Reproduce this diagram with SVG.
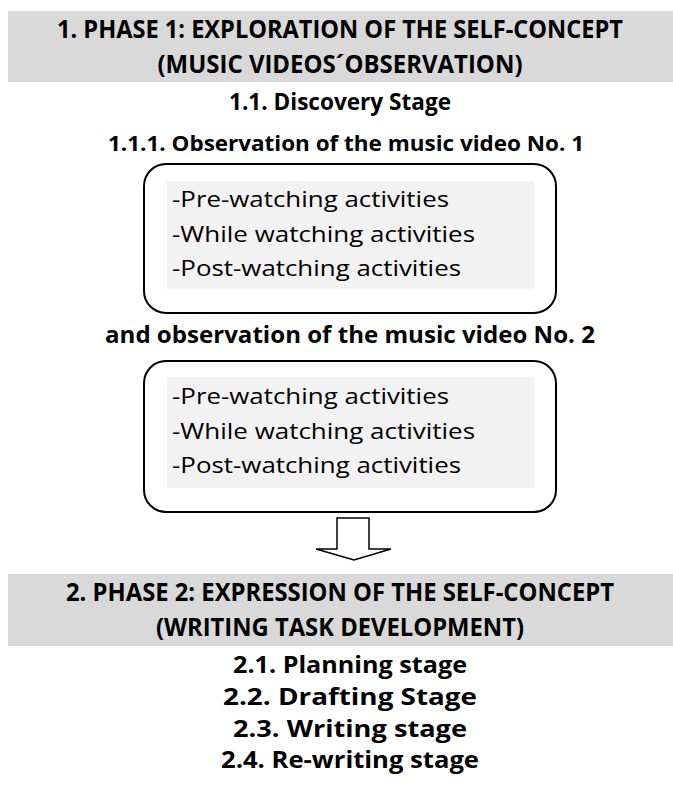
<svg xmlns="http://www.w3.org/2000/svg" width="673" height="785" viewBox="0 0 673 785">
<style>
.band{fill:#d9d9d9}
.t{font-family:"Open Sans","Noto Sans","Liberation Sans",sans-serif;font-weight:bold;fill:#000;text-anchor:middle}
.h{font-size:25px}
.s{font-size:24px}
.o{font-size:22px}
.g{font-size:23px}
.box{fill:#fff;stroke:#000;stroke-width:2}
.inner{fill:#f2f2f2}
.a{font-family:"Open Sans","Noto Sans","Liberation Sans",sans-serif;font-size:21px;fill:#000}
</style>
<rect width="673" height="785" fill="#fff"/>
<g id="phase1">
<rect class="band" x="8" y="11" width="665" height="71"/>
<text class="t h" x="340" y="38" textLength="566" lengthAdjust="spacingAndGlyphs">1. PHASE 1: EXPLORATION OF THE SELF-CONCEPT</text>
<text class="t h" x="340" y="73" textLength="365" lengthAdjust="spacingAndGlyphs">(MUSIC VIDEOS´OBSERVATION)</text>
</g>
<g id="discovery">
<text class="t s" x="340" y="110" textLength="222" lengthAdjust="spacingAndGlyphs">1.1. Discovery Stage</text>
</g>
<g id="obs1">
<text class="t o" x="346" y="151" textLength="476" lengthAdjust="spacingAndGlyphs">1.1.1. Observation of the music video No. 1</text>
</g>
<g id="box1">
<rect class="box" x="144" y="164" width="412" height="149" rx="22"/>
<rect class="inner" x="167" y="181" width="367" height="108"/>
<text class="a" x="172" y="207" textLength="277" lengthAdjust="spacingAndGlyphs">-Pre-watching activities</text>
<text class="a" x="172" y="242" textLength="303" lengthAdjust="spacingAndGlyphs">-While watching activities</text>
<text class="a" x="172" y="276" textLength="289" lengthAdjust="spacingAndGlyphs">-Post-watching activities</text>
</g>
<g id="obs2">
<text class="t g" x="350" y="343" textLength="490" lengthAdjust="spacingAndGlyphs">and observation of the music video No. 2</text>
</g>
<g id="box2">
<rect class="box" x="144" y="361" width="412" height="151" rx="22"/>
<rect class="inner" x="167" y="377" width="367" height="111"/>
<text class="a" x="172" y="404" textLength="277" lengthAdjust="spacingAndGlyphs">-Pre-watching activities</text>
<text class="a" x="172" y="439" textLength="303" lengthAdjust="spacingAndGlyphs">-While watching activities</text>
<text class="a" x="172" y="473" textLength="289" lengthAdjust="spacingAndGlyphs">-Post-watching activities</text>
</g>
<g id="connectors">
<path d="M337,518 L369,518 L369,549 L391,549 L354,560 L316,549 L337,549 Z" fill="#fff" stroke="#000" stroke-width="1.5" stroke-linejoin="miter"/>
</g>
<g id="phase2">
<rect class="band" x="8" y="574" width="665" height="72"/>
<text class="t h" x="340" y="601" textLength="548" lengthAdjust="spacingAndGlyphs">2. PHASE 2: EXPRESSION OF THE SELF-CONCEPT</text>
<text class="t h" x="340" y="636" textLength="368" lengthAdjust="spacingAndGlyphs">(WRITING TASK DEVELOPMENT)</text>
</g>
<g id="stages">
<text class="t g" x="350" y="673" textLength="234" lengthAdjust="spacingAndGlyphs">2.1. Planning stage</text>
<text class="t g" x="350" y="705" textLength="254" lengthAdjust="spacingAndGlyphs">2.2.  Drafting Stage</text>
<text class="t g" x="350" y="737" textLength="234" lengthAdjust="spacingAndGlyphs">2.3. Writing stage</text>
<text class="t g" x="350" y="768" textLength="258" lengthAdjust="spacingAndGlyphs">2.4. Re-writing stage</text>
</g>
</svg>
